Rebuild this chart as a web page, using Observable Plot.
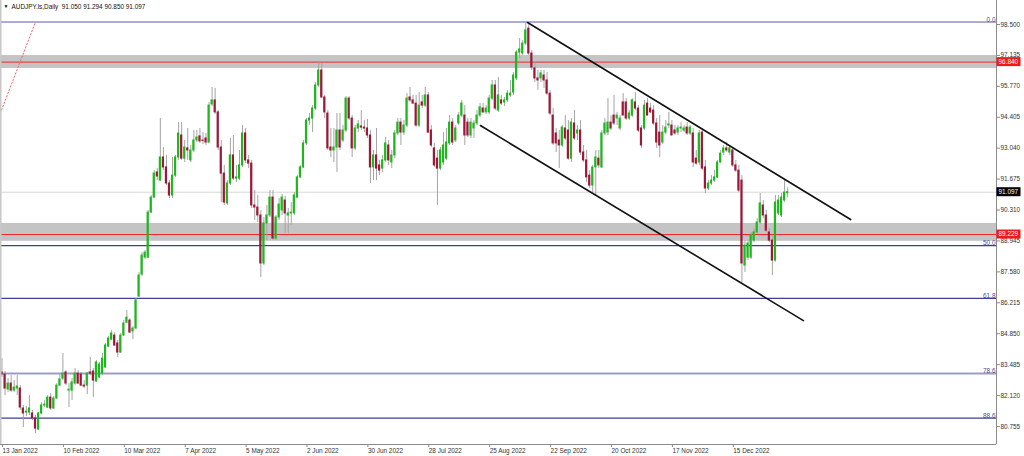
<!DOCTYPE html>
<html>
<head>
<meta charset="utf-8">
<script src="https://cdn.jsdelivr.net/npm/d3@7"></script>
<script src="https://cdn.jsdelivr.net/npm/@observablehq/plot@0.6"></script>
<style>
  html, body { margin: 0; padding: 0; background: #fff; }
  svg { display: block; }
</style>
</head>
<body>
<div id="chart"></div>
<script>
// ---------- data ----------
const symbol = "AUDJPY.ls,Daily";
const lastBar = ["91.050", "91.294", "90.850", "91.097"];

const opens = [
83.14,83.05,82.39,82.65,82.34,82.43,82.43,81.55,81.37,81.37,81.33,81.11,80.62,81.33,81.68,81.59,82.03,81.55,81.99,82.56,
82.87,83.14,82.34,82.34,82.65,83.09,83.05,82.56,82.56,83.14,83.18,82.74,82.92,83.09,83.36,84.28,84.59,84.77,84.42,84.02,
84.77,85.34,85.43,84.95,85.08,86.49,87.46,88.21,88.21,90.20,90.86,91.97,91.61,92.63,92.19,91.48,90.95,91.83,92.63,93.60,
92.58,93.03,92.50,92.94,93.38,93.56,93.38,93.47,93.29,94.97,95.15,94.62,93.07,91.92,90.60,91.48,92.72,91.70,91.70,92.28,
93.69,92.50,92.36,90.51,90.42,90.07,87.95,89.72,90.07,90.86,89.05,89.98,90.29,90.73,90.07,90.16,90.16,90.86,91.75,92.19,
93.25,94.26,94.35,94.79,95.81,96.47,95.28,94.57,93.07,92.94,93.07,93.82,93.38,93.82,95.23,94.35,93.03,93.91,94.00,93.95,
93.91,93.60,92.19,92.72,92.28,92.14,92.50,93.16,92.41,92.72,93.69,94.17,93.73,94.04,95.28,95.15,95.01,94.04,95.06,94.92,
95.37,93.82,93.03,92.58,92.14,92.41,92.58,93.25,94.17,93.38,94.13,94.48,94.48,94.17,93.60,93.91,94.13,94.48,94.79,94.62,
94.62,95.23,95.81,94.70,95.15,95.06,95.15,95.37,95.50,96.12,97.26,97.22,97.66,98.32,97.22,96.56,96.12,96.12,96.25,96.03,
95.45,94.48,93.69,93.38,93.16,93.91,93.82,92.58,94.13,93.69,93.82,92.85,92.50,91.83,91.39,92.19,92.58,92.19,93.69,93.73,
94.17,94.48,94.35,93.91,95.06,95.06,94.35,94.48,95.06,94.79,93.91,93.91,95.01,94.79,94.70,94.13,93.73,93.29,93.73,94.04,
94.04,93.82,93.73,93.91,93.82,93.95,93.69,93.69,92.58,92.41,93.73,92.19,91.26,91.48,91.61,91.75,92.41,92.85,93.03,92.85,
92.94,92.28,92.05,91.61,87.86,88.21,88.21,88.96,89.32,89.76,90.51,90.07,89.32,88.96,88.08,90.16,90.07,90.73,91.05
];
const highs = [
83.75,83.18,82.87,83.00,82.78,83.00,82.56,81.68,81.64,82.12,81.46,81.24,81.37,81.81,81.90,82.12,82.21,82.08,82.65,83.09,
83.98,83.22,82.65,82.87,83.31,83.22,83.14,82.78,83.14,83.80,83.31,83.67,83.58,83.98,84.42,84.73,84.99,84.90,84.55,84.86,
85.43,85.87,85.52,85.17,86.40,87.55,88.43,88.52,90.29,90.95,92.05,92.14,94.35,93.07,92.72,91.61,92.63,92.72,94.17,94.17,
93.38,93.91,93.16,93.82,93.82,93.91,93.73,93.69,95.06,95.72,95.68,94.70,93.38,92.28,91.61,93.47,93.60,92.28,92.94,94.04,
93.91,92.72,92.50,91.17,90.95,90.29,89.98,90.51,91.17,91.17,90.07,90.82,91.00,90.91,90.38,90.64,91.08,91.83,92.28,93.38,
94.35,94.57,94.92,95.94,96.82,96.78,95.37,94.70,93.91,93.91,94.57,94.57,94.04,95.32,95.32,94.48,94.04,94.26,94.70,94.26,
94.31,93.82,92.94,93.91,92.50,92.72,93.51,93.38,92.94,93.82,94.35,94.35,94.26,95.45,95.72,95.37,95.37,95.50,95.37,95.72,
95.50,94.04,93.25,92.94,93.07,93.73,93.91,94.48,94.35,94.04,94.62,95.15,94.92,94.35,94.35,94.26,94.70,95.01,95.01,94.92,
95.37,96.03,96.03,96.16,95.37,95.28,95.59,96.03,96.38,97.35,97.88,97.79,98.59,98.59,97.35,96.82,96.47,96.47,96.47,96.38,
95.59,94.79,93.91,93.82,94.04,94.48,94.26,94.35,94.70,94.04,94.26,93.16,92.94,92.05,92.28,92.94,92.94,93.82,94.35,95.23,
94.48,95.37,94.62,94.48,95.45,95.23,94.70,95.23,95.50,94.92,94.04,95.15,95.23,95.01,94.92,94.35,94.48,94.04,94.26,94.62,
94.26,94.04,94.04,94.17,94.04,94.17,94.04,93.91,92.94,93.82,93.91,92.50,91.61,91.83,92.05,92.50,92.94,93.16,93.30,93.16,
93.03,92.50,92.28,91.83,88.96,88.96,89.32,89.49,89.93,91.04,90.73,90.29,89.49,89.19,90.95,90.95,91.04,91.61,91.29
];
const lows = [
82.92,82.12,82.25,82.25,82.25,82.12,81.46,80.71,81.19,81.24,81.02,80.44,80.58,81.28,81.59,81.55,81.46,81.50,81.94,82.52,
82.78,82.56,81.59,81.90,82.56,82.61,82.52,82.43,82.16,83.00,82.03,82.70,82.87,83.00,83.31,84.24,84.55,84.28,83.80,83.98,
84.73,85.30,84.86,84.59,85.04,86.45,87.38,88.13,88.17,90.16,90.82,91.61,91.57,92.05,91.39,90.82,90.82,91.75,92.50,92.50,
92.41,92.50,92.41,92.85,93.29,93.25,93.20,93.16,93.25,94.88,94.53,92.94,90.64,90.51,90.51,91.39,91.61,91.52,91.61,92.19,
92.36,92.14,90.38,89.85,89.76,87.33,87.86,88.96,89.98,88.96,88.96,89.85,90.07,89.27,89.27,89.63,90.07,90.82,91.70,92.14,
93.16,94.04,93.73,94.70,95.72,95.23,94.35,92.94,92.63,92.41,91.97,92.94,93.29,93.73,94.26,92.63,92.94,93.73,93.82,93.73,
93.47,91.48,91.61,91.61,91.83,91.97,92.41,92.28,92.14,92.58,93.60,93.16,93.60,93.95,95.06,94.97,93.95,93.95,94.79,94.84,
93.69,93.07,92.19,90.51,92.05,92.28,92.50,93.16,93.16,93.29,94.04,94.40,93.16,93.51,93.47,93.47,94.04,94.40,94.57,94.53,
94.53,95.15,94.70,94.62,94.92,94.88,95.06,95.28,95.37,96.03,96.99,97.13,97.57,97.13,96.47,95.94,95.59,95.94,95.68,95.37,
94.48,93.16,92.85,92.14,93.07,93.38,92.50,92.41,93.38,93.38,92.72,92.41,91.52,91.26,91.08,90.95,92.14,92.14,93.60,93.60,
93.82,94.04,94.04,93.82,94.48,94.26,94.26,94.40,94.70,93.73,93.03,93.82,94.48,94.57,94.04,93.03,92.63,93.20,93.64,93.91,
93.60,93.60,93.60,93.73,93.73,93.60,93.60,92.19,92.28,92.28,92.05,91.04,91.17,91.39,91.52,91.70,92.36,92.72,92.85,92.72,
92.19,91.97,91.08,87.11,87.55,88.08,88.13,88.87,89.23,89.67,89.93,89.32,88.87,87.42,88.01,90.07,89.98,90.64,90.85
];
const closes = [
83.05,82.43,82.65,82.34,82.47,82.52,81.59,81.33,81.41,81.55,81.11,80.66,81.33,81.68,81.72,82.03,81.55,81.99,82.56,82.83,
83.09,82.65,82.38,82.70,83.09,82.65,82.56,82.52,83.09,83.09,82.78,83.58,83.49,83.75,84.33,84.64,84.86,84.33,84.02,84.77,
85.30,85.56,84.90,85.08,86.32,87.42,88.30,88.43,90.20,90.86,91.92,91.79,92.63,92.19,91.48,90.95,91.83,92.63,93.69,92.58,
93.07,92.94,92.94,93.38,93.51,93.34,93.36,93.29,94.92,95.15,94.62,93.07,91.92,90.64,91.48,92.72,91.70,91.75,92.28,93.69,
92.50,92.36,90.51,90.42,90.07,87.95,89.72,90.07,90.86,89.05,89.98,90.55,90.86,90.16,90.16,90.20,90.95,91.75,92.19,93.25,
94.26,94.35,94.79,95.81,96.47,95.28,94.62,93.03,92.94,93.07,93.82,93.07,93.82,95.23,94.35,93.03,93.91,94.09,93.95,93.91,
93.60,92.19,92.72,92.14,92.05,92.50,93.25,92.50,92.72,93.69,94.17,93.73,94.04,95.23,95.15,95.01,94.04,94.92,94.92,95.37,
93.73,93.16,92.28,92.14,92.94,93.16,93.29,94.17,93.29,93.91,94.48,95.01,93.60,93.60,94.17,94.13,94.48,94.84,94.62,94.79,
95.23,95.81,94.79,95.37,95.01,95.15,95.45,95.45,96.25,97.26,97.40,97.66,98.24,97.22,96.60,96.12,96.03,96.34,96.03,95.45,
94.57,93.25,93.25,93.16,93.95,93.47,92.58,94.17,93.47,93.82,92.85,92.50,91.75,91.39,92.19,92.63,92.28,93.69,94.13,94.17,
93.91,94.13,94.48,94.35,94.48,94.35,94.57,95.15,94.79,93.82,93.16,94.92,94.48,94.62,94.13,93.29,93.16,93.73,93.95,94.09,
93.60,93.69,93.91,93.95,93.91,93.69,93.95,92.41,92.36,93.69,92.14,91.26,91.48,91.61,91.75,92.41,92.80,93.03,92.94,93.03,
92.28,92.05,91.17,87.95,88.74,88.83,89.19,89.32,89.76,90.60,90.07,89.40,88.96,88.08,90.64,90.73,90.86,91.08,91.10
];

// axis ticks
const yTicks = [98.5, 97.135, 95.77, 94.405, 93.04, 91.675, 90.31, 88.945, 87.58, 86.215, 84.85, 83.485, 82.12, 80.755];
const xTickIdx = [0, 20, 40, 60, 80, 100, 120, 140, 160, 180, 200, 220, 240];
const xTickLabels = ["13 Jan 2022", "10 Feb 2022", "10 Mar 2022", "7 Apr 2022", "5 May 2022", "2 Jun 2022",
  "30 Jun 2022", "28 Jul 2022", "25 Aug 2022", "22 Sep 2022", "20 Oct 2022", "17 Nov 2022", "15 Dec 2022"];

// fibonacci levels
const fibLabels = ["0.0", "50.0", "61.8", "78.6", "88.6"];
const fibPrices = [98.61, 88.74, 86.41, 83.09, 81.12];
// fib anchor line (bar index, price)
const fibAnchorIdx = [-45.7, 11];
const fibAnchorPrice = [78.87, 98.61];

// support / resistance zones
const zoneLow = [96.56, 88.93];
const zoneHigh = [97.13, 89.72];
const zoneLine = [96.84, 89.229];
const zoneLabel = ["96.840", "89.229"];

// current price
const currentPrice = 91.097;
const currentLabel = "91.097";

// channel lines (bar index, price)
const upperIdx = [172.6, 278.7];
const upperPrice = [98.59, 89.89];
const lowerIdx = [157.1, 263.2];
const lowerPrice = [94.04, 85.43];

// ---------- build ----------
const candles = opens.map((o, i) => ({i, o, h: highs[i], l: lows[i], c: closes[i]}));
const bull = candles.filter(d => d.c >= d.o);
const bear = candles.filter(d => d.c < d.o);
const fibs = fibLabels.map((label, k) => ({label, price: fibPrices[k]}));
const zones = zoneLow.map((lo, k) => ({lo, hi: zoneHigh[k], line: zoneLine[k], label: zoneLabel[k]}));
const fibAnchor = fibAnchorIdx.map((i, k) => ({i, p: fibAnchorPrice[k]}));
const upper = upperIdx.map((i, k) => ({i, p: upperPrice[k]}));
const lower = lowerIdx.map((i, k) => ({i, p: lowerPrice[k]}));

const xDom = [-0.4926, 326.6];
const yDom = [79.96, 99.56];

const BULL = "#1cb81c", BEAR = "#9c1838", WICK = "#a4a4a4";
const NAVY = "#3e3e92";
const fibStroke = {"0.0": "#5a5aa6", "50.0": NAVY, "61.8": NAVY, "78.6": "#9c9cc9", "88.6": NAVY};
const fibWidth = {"0.0": 1, "50.0": 1.2, "61.8": 1.2, "78.6": 2, "88.6": 1.2};

const FONT = "'Liberation Sans', Arial, sans-serif";

const plot = Plot.plot({
  width: 1024,
  height: 456,
  marginTop: 0,
  marginBottom: 12,
  marginLeft: 0,
  marginRight: 28,
  style: {fontFamily: FONT, fontSize: "6.4px", background: "#fff", color: "#333"},
  x: {type: "linear", domain: xDom},
  y: {type: "linear", domain: yDom},
  marks: [
    // zones
    Plot.rect(zones, {x1: xDom[0], x2: xDom[1], y1: "lo", y2: "hi", fill: "#c4c4c4"}),
    Plot.ruleY(zones, {y: "line", stroke: "#f02828", strokeWidth: 1}),
    // current price line
    Plot.ruleY([currentPrice], {stroke: "#d6d6d6", strokeWidth: 1}),
    // fib levels
    ...fibs.map(f => Plot.ruleY([f], {y: "price", stroke: fibStroke[f.label], strokeWidth: fibWidth[f.label]})),
    Plot.text(fibs, {y: "price", text: "label", frameAnchor: "right", textAnchor: "end", lineAnchor: "bottom",
      dx: -1, dy: -0.5, fill: "#4a4aa0", fontSize: 6.4}),
    // fib anchor dotted line
    Plot.line(fibAnchor, {x: "i", y: "p", stroke: "#f06a6a", strokeWidth: 1, strokeDasharray: "1.5 2", clip: true}),
    // wicks
    Plot.ruleX(candles, {x: "i", y1: "l", y2: "h", stroke: WICK, strokeWidth: 1}),
    // bodies
    Plot.rect(bull, {x1: d => d.i - 0.36, x2: d => d.i + 0.36, y1: "o", y2: "c", fill: BULL, insetTop: -0.5, insetBottom: -0.5}),
    Plot.rect(bear, {x1: d => d.i - 0.36, x2: d => d.i + 0.36, y1: "o", y2: "c", fill: BEAR, insetTop: -0.5, insetBottom: -0.5}),
    // channel
    Plot.line(upper, {x: "i", y: "p", stroke: "#111", strokeWidth: 1.6}),
    Plot.line(lower, {x: "i", y: "p", stroke: "#111", strokeWidth: 1.6}),
    // frame lines
    Plot.ruleX([xDom[0]], {stroke: "#c8c8c8", strokeWidth: 2}),
    Plot.ruleX([xDom[1]], {stroke: "#8a8a8a", strokeWidth: 1}),
    Plot.ruleY([yDom[0]], {stroke: "#8a8a8a", strokeWidth: 1}),
    // axes
    Plot.axisY(yTicks, {anchor: "right", tickSize: 3, tickPadding: 1, tickFormat: d => d.toFixed(3),
      label: null, stroke: "#8a8a8a", fill: "#333", fontSize: 6.4}),
    Plot.axisX(xTickIdx, {anchor: "bottom", tickSize: 3, tickPadding: 1,
      tickFormat: d => xTickLabels[xTickIdx.indexOf(d)], textAnchor: "start", dx: 0.5,
      label: null, stroke: "#8a8a8a", fill: "#333", fontSize: 6.4}),
    // header
    Plot.text(["\u25BC"], {frameAnchor: "top-left", dx: 3, dy: 4, textAnchor: "start", lineAnchor: "top", fontSize: 5, fill: "#000"}),
    Plot.text([symbol + "  " + lastBar.join(" ")], {frameAnchor: "top-left", dx: 11, dy: 3.5, textAnchor: "start",
      lineAnchor: "top", fontSize: 6.4, fill: "#111"})
  ]
});

// price tags on the right axis
const yScale = plot.scale("y");
const svg = d3.select(plot);
const tags = zones.map(z => ({price: z.line, label: z.label, bg: "#f01818"}))
  .concat([{price: currentPrice, label: currentLabel, bg: "#000"}]);
const g = svg.append("g").attr("text-anchor", "start");
tags.forEach(t => {
  const yy = yScale.apply(t.price);
  g.append("rect").attr("x", 996.5).attr("y", yy - 4.5).attr("width", 24).attr("height", 9).attr("fill", t.bg);
  g.append("text").attr("x", 998.5).attr("y", yy).attr("dy", "0.34em").attr("fill", "#fff")
    .attr("text-anchor", "start")
    .attr("font-family", FONT).attr("font-size", "6.4px").text(t.label);
});

document.getElementById("chart").appendChild(plot);
</script>
</body>
</html>
